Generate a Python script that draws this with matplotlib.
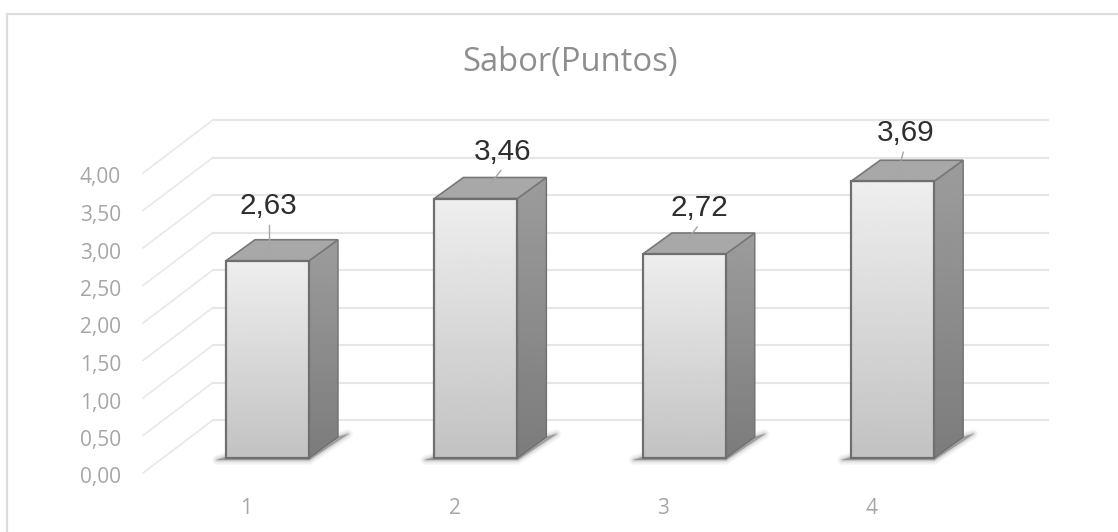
import numpy as np
import matplotlib
matplotlib.use('Agg')
import matplotlib.pyplot as plt
from matplotlib.patches import Polygon

categorias = ['1', '2', '3', '4']
posiciones = [1, 2, 3, 4]
valores = [2.63, 3.46, 2.72, 3.69]
etiquetas = ['2,63', '3,46', '2,72', '3,69']
ticks_y = [0, 0.5, 1, 1.5, 2, 2.5, 3, 3.5, 4]
ticks_y_txt = ['0,00', '0,50', '1,00', '1,50', '2,00', '2,50', '3,00', '3,50', '4,00']

# pixeles por unidad de datos
PX = 1 / 208.4
PY = 1 / 75.0
ancho = 83 * PX
fondo_x = 29 * PX
fondo_y = 21 * PY


def degradado(x0, x1, y0, y1, c_arriba, c_abajo, clip):
    g = np.linspace(c_arriba, c_abajo, 128).reshape(-1, 1)
    im = ax.imshow(g, extent=[x0, x1, y0, y1], cmap='gray', vmin=0, vmax=255,
                   aspect='auto', origin='upper', zorder=3, interpolation='bilinear')
    im.set_clip_path(clip)


fig = plt.figure(figsize=(11.18, 5.32), dpi=100)
ax = fig.add_axes([0, 0, 1, 1])
ax.axis('off')
xlim = (1 - 267.5 * PX, 1 + (1118 - 267.5) * PX)
ylim = (-74 * PY, 458 * PY)

# marco del grafico
ax.plot([xlim[0] + 7 * PX, xlim[0] + 7 * PX, xlim[1]],
        [ylim[0], ylim[1] - 14 * PY, ylim[1] - 14 * PY],
        color='#dcdcdc', lw=1.6, zorder=1)

# lineas de la pared y del lado izquierdo
x_pared = 1 + (213 - 267.5) * PX
x_fin = 1 + (1048 - 267.5) * PX
x_frente = 1 + (143 - 267.5) * PX
for t in ticks_y:
    y = t + 38 * PY
    ax.plot([x_pared, x_fin], [y, y], color='#e6e6e6', lw=1.5, zorder=1)
    ax.plot([x_frente, x_pared], [t - 15 * PY, y], color='#e8e8e8', lw=1.2, zorder=1)

# sombras
for x in posiciones:
    xi, xd = x - ancho / 2, x + ancho / 2
    puntos = [(xi - 9 * PX, -2 * PY), (xd, -2 * PY), (xd + fondo_x + 10 * PX, fondo_y + 3 * PY),
              (xd + fondo_x, fondo_y), (xi, 1 * PY)]
    for lw, alfa in [(7, 0.05), (5, 0.07), (3, 0.1), (1.5, 0.14), (0.5, 0.2)]:
        ax.add_patch(Polygon(puntos, closed=True, fc='#666666', ec='#666666', lw=lw,
                             alpha=alfa, zorder=2, joinstyle='round'))

# barras
barras = ax.bar(posiciones, valores, width=ancho, facecolor='none',
                edgecolor='#6f6f6f', linewidth=1.6, zorder=5)
for x, v, b in zip(posiciones, valores, barras):
    xi, xd = x - ancho / 2, x + ancho / 2
    degradado(xi, xd, 0, v, 238, 194, b)

    lado = Polygon([(xd, 0), (xd + fondo_x, fondo_y), (xd + fondo_x, v + fondo_y), (xd, v)],
                   closed=True, fc='none', ec='#707070', lw=1.0, zorder=4)
    ax.add_patch(lado)
    degradado(xd, xd + fondo_x, 0, v + fondo_y, 156, 124, lado)

    ax.add_patch(Polygon([(xi, v), (xi + fondo_x, v + fondo_y), (xd + fondo_x, v + fondo_y), (xd, v)],
                         closed=True, fc='#a8a8a8', ec='#787878', lw=1.2, zorder=4))

# etiquetas de valor y sus lineas guia
desp_x = [0.5, 27, 15, 12.5]
desp_y = [55, 47, 46, 48]
guia_x = [1.5, 14, 4, 6]
guia_y = [10, 14, 16, 11]
for x, v, txt, dx, dy, gx, gy in zip(posiciones, valores, etiquetas, desp_x, desp_y, guia_x, guia_y):
    tx = x + dx * PX
    ty = v + dy * PY
    ax.text(tx, ty, txt, ha='center', va='center', fontsize=21.3, color='#2e2e2e',
            family='Liberation Sans', zorder=7)
    ax.plot([tx + (1 if dx < 5 else -2) * PX, x + gx * PX],
            [ty - 19 * PY, v + gy * PY], color='#a5a5a5', lw=1.0, zorder=6)

# ejes como texto
for t, txt in zip(ticks_y, ticks_y_txt):
    ax.text(1 + (121 - 267.5) * PX, t - 20 * PY, txt, ha='right', va='center', fontsize=15,
            color='#a6a6a6', family='Open Sans', zorder=7)
for x, txt in zip(posiciones, categorias):
    ax.text(x - 21 * PX, -50 * PY, txt, ha='center', va='center', fontsize=15,
            color='#a6a6a6', family='Open Sans', zorder=7)

ax.text(1 + (570 - 267.5) * PX, (458 - 62) * PY, 'Sabor(Puntos)', ha='center', va='center',
        fontsize=23.6, color='#8e8e8e', family='Open Sans', zorder=7)

ax.set_xlim(*xlim)
ax.set_ylim(*ylim)
fig.savefig('out.png', dpi=100, facecolor='white')
